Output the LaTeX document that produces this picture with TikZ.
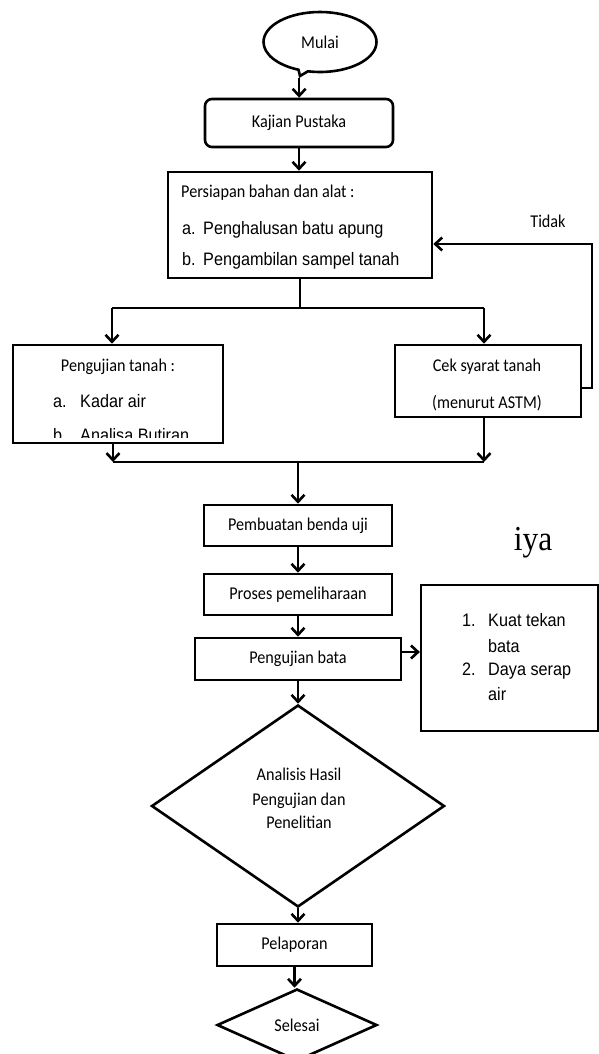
\documentclass[tikz,border=0pt]{standalone}
\usepackage{fontspec}
\setmainfont{Carlito}
\newfontfamily\myCalF[FakeStretch=0.9]{Carlito}
\newfontfamily\myArialF[FakeStretch=0.9]{Liberation Sans}
\newfontfamily\myTimesF[FakeStretch=0.9]{Liberation Serif}
\newcommand\myCal{\myCalF\fontsize{18}{22}\selectfont}
\newcommand\myArial{\myArialF\fontsize{18}{22}\selectfont}
\newcommand\myTimes{\myTimesF\fontsize{35}{40}\selectfont}
\usetikzlibrary{arrows.meta,shapes.geometric,shapes.callouts}
\begin{document}
\begin{tikzpicture}[x=1pt,y=-1pt,
  lw/.style={line width=2.6pt},
  arr/.style={lw,-{Straight Barb[length=7pt,width=13pt]}},
  box/.style={draw,lw,rectangle,inner sep=0pt,font=\myCal},
  txt/.style={inner sep=0pt,anchor=base west},
  ctxt/.style={inner sep=0pt,anchor=base}]
\path[fill=white,use as bounding box] (0,0) rectangle (599,1054);

% Mulai
\coordinate (tail) at (300,76);
\node[ellipse callout,draw,lw,minimum width=113pt,minimum height=60pt,inner sep=0pt,
      callout pointer arc=10,
      callout absolute pointer={(tail)},font=\myCal] (mulai) at (320,42) {Mulai};

% Kajian Pustaka
\node[box,rounded corners=7pt,minimum width=188pt,minimum height=48pt] (kajian) at (299,123) {Kajian Pustaka};

% Persiapan
\node[box,minimum width=264pt,minimum height=106pt] (persiapan) at (300,225) {};
\node[txt,font=\myCal] (p0) at (181,197) {Persiapan bahan dan alat :};
\node[txt,font=\myArial] (p1) at (182,234) {a.};
\node[txt,font=\myArial] (p1b) at (203,234) {Penghalusan batu apung};
\node[txt,font=\myArial] (p2) at (182,265) {b.};
\node[txt,font=\myArial] (p2b) at (203,265) {Pengambilan sampel tanah};

% Pengujian tanah
\node[box,minimum width=210pt,minimum height=98pt] (ptanah) at (118,394) {};
\node[ctxt,font=\myCal] (pt0) at (118,371) {Pengujian tanah :};
\node[txt,font=\myArial] (pt1) at (53,407) {a.};
\node[txt,font=\myArial] (pt1b) at (80,407) {Kadar air};
\begin{scope}
  \clip (15,347) rectangle (221,437.5);
  \node[txt,font=\myArial] (pt2) at (53,441) {b.};
  \node[txt,font=\myArial] (pt2b) at (80,441) {Analisa Butiran};
\end{scope}

% Cek syarat
\node[box,minimum width=186pt,minimum height=72pt] (cek) at (488,381) {};
\node[ctxt,font=\myCal] (c0) at (487,371) {Cek syarat tanah};
\node[ctxt,font=\myCal] (c1) at (487,408) {(menurut ASTM)};
\node[ctxt,font=\myCal] (tidak) at (548,227) {Tidak};

% middle chain
\node[box,minimum width=188pt,minimum height=41pt] (pembuatan) at (298,525.5) {Pembuatan benda uji};
\node[ctxt,font=\myTimes] (iya) at (533,550) {iya};
\node[box,minimum width=188pt,minimum height=41pt] (proses) at (298,594.5) {Proses pemeliharaan};
\node[box,minimum width=206pt,minimum height=42pt] (bata) at (298,659) {Pengujian bata};

% list box
\node[draw,line width=2.2pt,rectangle,inner sep=0pt,minimum width=177pt,minimum height=146pt] (list) at (509.5,658) {};
\node[txt,font=\myArial] (l1) at (462,626) {1.};
\node[txt,font=\myArial] (l1b) at (488,626) {Kuat tekan};
\node[txt,font=\myArial] (l1c) at (488,652) {bata};
\node[txt,font=\myArial] (l2) at (462,675) {2.};
\node[txt,font=\myArial] (l2b) at (488,675) {Daya serap};
\node[txt,font=\myArial] (l2c) at (488,700) {air};

% diamond
\node[draw,lw,diamond,inner sep=0pt,minimum width=293pt,minimum height=202pt] (analisis) at (298,806) {};
\node[ctxt,font=\myCal] (a0) at (299,780) {Analisis Hasil};
\node[ctxt,font=\myCal] (a1) at (299,805) {Pengujian dan};
\node[ctxt,font=\myCal] (a2) at (299,828) {Penelitian};

\node[box,minimum width=155pt,minimum height=42pt] (pelaporan) at (294.5,945) {Pelaporan};
\node[draw,lw,diamond,inner sep=0pt,minimum width=160pt,minimum height=72pt,font=\myCal] (selesai) at (297,1025) {Selesai};

% connectors
\draw[arr] (mulai.pointer) -- (mulai.pointer |- kajian.north);
\draw[arr] (kajian.south) -- (kajian.south |- persiapan.north);
\coordinate (s0) at (300,308);
\coordinate (sl) at (112,308);
\coordinate (sr) at (484,308);
\draw[lw] (persiapan.south) -- (s0);
\draw[lw] (sl) -- (sr);
\draw[arr] (sl) -- (sl |- ptanah.north);
\draw[arr] (sr) -- (sr |- cek.north);
\coordinate (ml) at (113,462);
\coordinate (mr) at (484,462);
\coordinate (mm) at (298,462);
\draw[arr] (ml |- ptanah.south) -- (ml);
\draw[arr] (mr |- cek.south) -- (mr);
\draw[lw] (ml) -- (mr);
\draw[arr] (mm) -- (mm |- pembuatan.north);
\coordinate (t1) at (592,388);
\coordinate (t2) at (592,244);
\draw[arr] (cek.east |- t1) -- (t1) -- (t2) -- (t2 -| persiapan.east);
\draw[arr] (pembuatan.south) -- (proses.north);
\draw[arr] (proses.south) -- (bata.north);
\coordinate (lb) at (421,652);
\draw[arr] (bata.east |- lb) -- (list.west |- lb);
\draw[arr] (bata.south) -- (analisis.north);
\draw[arr] (analisis.south) -- (analisis.south |- pelaporan.north);
\draw[arr] (pelaporan.south) -- (pelaporan.south |- selesai.north);
\end{tikzpicture}
\end{document}
